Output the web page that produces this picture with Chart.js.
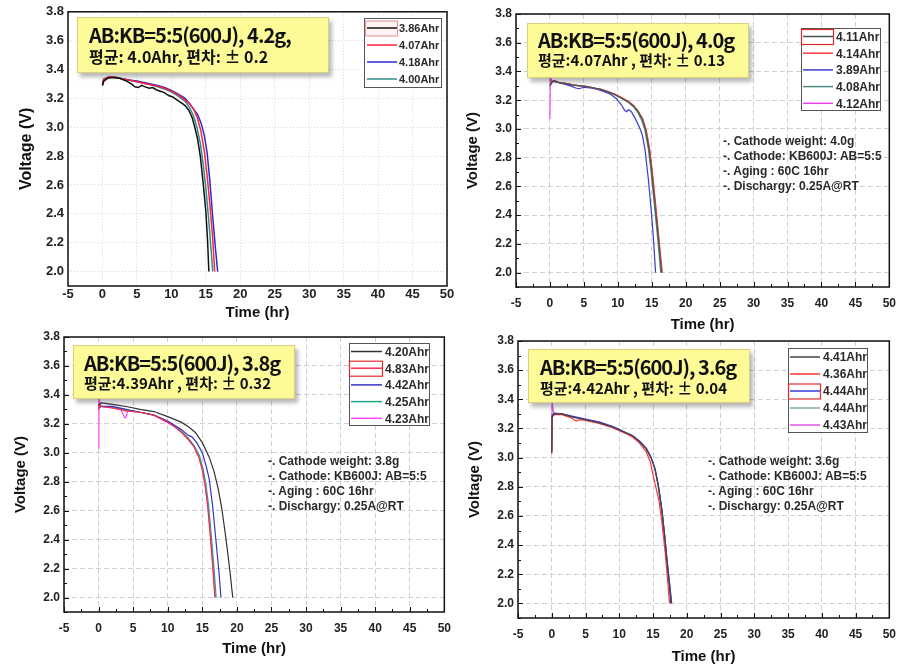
<!DOCTYPE html>
<html>
<head>
<meta charset="utf-8">
<script src="https://cdn.jsdelivr.net/npm/chart.js@4/dist/chart.umd.min.js"></script>
<style>
  html, body { margin: 0; padding: 0; background: #fff; }
  body { width: 905px; height: 667px; position: relative; overflow: hidden; }
  canvas { position: absolute; }
  .ybox { position: absolute; background: #fdfb98; border: 1px solid #d9d27a;
          box-shadow: 3px 4px 4px rgba(0,0,0,0.28); z-index: 5;
          font-family: "Noto Sans CJK KR", "Noto Sans", sans-serif; font-weight: bold; color: #111; }
  .ybox div { position: absolute; white-space: nowrap; line-height: 1; }
  .l1 { font-size: 20px; letter-spacing: -1px; }
  .l2 { font-size: 15px; }
  .note { position: absolute; z-index: 4; font: bold 12px "Liberation Sans", Arial, sans-serif;
          color: #2a2a2a; line-height: 15px; white-space: nowrap; }
</style>
</head>
<body>
<canvas id="c1" width="460" height="320" style="left:0;top:0"></canvas>
<canvas id="c2" width="453" height="335" style="left:452px;top:0"></canvas>
<canvas id="c3" width="460" height="347" style="left:0;top:320px"></canvas>
<canvas id="c4" width="453" height="347" style="left:452px;top:320px"></canvas>

<div class="ybox" style="left:77px;top:17px;width:250px;height:54px">
  <div class="l1" style="left:11px;top:7px">AB:KB=5:5(600J), 4.2g,</div>
  <div class="l2" style="left:11px;top:30px;font-size:16px">평균: 4.0Ahr, 편차: ± 0.2</div>
</div>
<div class="ybox" style="left:527px;top:23px;width:220px;height:53px">
  <div class="l1" style="left:10px;top:6px">AB:KB=5:5(600J), 4.0g</div>
  <div class="l2" style="left:10px;top:28px">평균:4.07Ahr , 편차: ± 0.13</div>
</div>
<div class="ybox" style="left:73px;top:345px;width:220px;height:52px">
  <div class="l1" style="left:10px;top:7px">AB:KB=5:5(600J), 3.8g</div>
  <div class="l2" style="left:10px;top:29px">평균:4.39Ahr , 편차: ± 0.32</div>
</div>
<div class="ybox" style="left:528px;top:349px;width:220px;height:52px">
  <div class="l1" style="left:11px;top:7px">AB:KB=5:5(600J), 3.6g</div>
  <div class="l2" style="left:11px;top:30px">평균:4.42Ahr , 편차: ± 0.04</div>
</div>

<div class="note" style="left:723px;top:134px">-. Cathode weight: 4.0g<br>-. Cathode: KB600J: AB=5:5<br>-. Aging : 60C 16hr<br>-. Dischargy: 0.25A@RT</div>
<div class="note" style="left:268px;top:454px">-. Cathode weight: 3.8g<br>-. Cathode: KB600J: AB=5:5<br>-. Aging : 60C 16hr<br>-. Dischargy: 0.25A@RT</div>
<div class="note" style="left:708px;top:454px">-. Cathode weight: 3.6g<br>-. Cathode: KB600J: AB=5:5<br>-. Aging : 60C 16hr<br>-. Dischargy: 0.25A@RT</div>

<script>
// ---------- tick values ----------
const xTicks = [-5, 0, 5, 10, 15, 20, 25, 30, 35, 40, 45, 50];
const yTicks = [2.0, 2.2, 2.4, 2.6, 2.8, 3.0, 3.2, 3.4, 3.6, 3.8];

// ---------- panel 1 : 4.2g ----------
const p1Labels = ['3.86Ahr', '4.07Ahr', '4.18Ahr', '4.00Ahr'];
const p1_black = [[0,3.29],[0.2,3.32],[0.8,3.34],[1.5,3.345],[2.5,3.34],[3.5,3.32],[4.2,3.30],[4.7,3.28],[5.2,3.275],[5.7,3.29],[6.2,3.28],[6.8,3.27],[7.3,3.275],[7.8,3.26],[8.4,3.25],[9,3.24],[9.6,3.22],[10.2,3.21],[10.8,3.19],[11.4,3.17],[12,3.15],[12.5,3.12],[13,3.07],[13.4,3.0],[13.8,2.92],[14.2,2.80],[14.6,2.62],[15.0,2.42],[15.25,2.22],[15.44,2.0]];
const p1_red   = [[0,3.30],[0.2,3.33],[1,3.35],[2,3.345],[3,3.335],[4,3.325],[5,3.315],[6,3.305],[7,3.295],[8,3.285],[9,3.27],[10,3.25],[11,3.225],[12,3.19],[12.7,3.16],[13.3,3.12],[13.8,3.06],[14.3,2.97],[14.8,2.83],[15.2,2.66],[15.6,2.46],[16.0,2.23],[16.28,2.0]];
const p1_blue  = [[0,3.29],[0.2,3.33],[1,3.35],[2,3.345],[3,3.335],[4,3.325],[5,3.32],[6,3.31],[7,3.30],[8,3.29],[9,3.275],[10,3.255],[11,3.23],[12,3.2],[12.7,3.16],[13.3,3.12],[13.8,3.09],[14.3,3.03],[14.8,2.94],[15.2,2.82],[15.6,2.62],[16.0,2.38],[16.4,2.16],[16.72,2.0]];
const p1_teal  = [[0,3.31],[0.2,3.335],[1,3.35],[2,3.345],[3,3.335],[4,3.325],[5,3.315],[6,3.305],[7,3.295],[8,3.28],[9,3.265],[10,3.245],[11,3.215],[12,3.18],[12.6,3.14],[13.2,3.08],[13.7,3.0],[14.2,2.89],[14.6,2.75],[15.0,2.58],[15.4,2.37],[15.75,2.16],[16.0,2.0]];

// ---------- panel 2 : 4.0g ----------
const p2Labels = ['4.11Ahr', '4.14Ahr', '3.89Ahr', '4.08Ahr', '4.12Ahr'];
const p2_dark  = [[0,3.30],[0.3,3.33],[0.7,3.335],[1.5,3.32],[2.5,3.315],[3.5,3.305],[4.5,3.30],[5.5,3.295],[6.5,3.285],[7.5,3.275],[8.5,3.26],[9.5,3.24],[10.5,3.215],[11.5,3.19],[12.3,3.16],[13,3.12],[13.6,3.07],[14.1,2.99],[14.6,2.86],[15.0,2.70],[15.4,2.51],[15.8,2.32],[16.1,2.17],[16.44,2.0]];
const p2_red   = [[0,3.30],[0.3,3.33],[0.7,3.335],[1.5,3.32],[2.5,3.315],[3.5,3.305],[4.5,3.30],[5.5,3.295],[6.5,3.285],[7.5,3.275],[8.5,3.26],[9.5,3.245],[10.5,3.22],[11.5,3.195],[12.3,3.165],[13,3.125],[13.7,3.07],[14.2,2.99],[14.7,2.86],[15.1,2.70],[15.5,2.51],[15.9,2.32],[16.2,2.17],[16.56,2.0]];
const p2_blue  = [[0,3.30],[0.4,3.33],[1.5,3.32],[3,3.30],[3.8,3.285],[4.3,3.28],[5,3.29],[6,3.285],[7,3.275],[8,3.26],[9,3.24],[9.8,3.21],[10.5,3.17],[11,3.13],[11.3,3.12],[11.6,3.135],[12,3.12],[12.6,3.07],[13.2,3.01],[13.6,2.96],[14,2.86],[14.5,2.65],[15,2.39],[15.3,2.2],[15.56,2.0]];
const p2_teal  = [[0,3.30],[0.3,3.33],[0.7,3.335],[1.5,3.32],[2.5,3.315],[3.5,3.305],[4.5,3.30],[5.5,3.295],[6.5,3.285],[7.5,3.275],[8.5,3.26],[9.5,3.24],[10.5,3.215],[11.5,3.185],[12.3,3.155],[13,3.11],[13.5,3.06],[14.0,2.99],[14.5,2.86],[14.9,2.70],[15.3,2.51],[15.7,2.32],[16.0,2.17],[16.32,2.0]];
const p2_mag   = [[0,3.07],[0.05,3.36],[0.3,3.33],[0.7,3.335],[1.5,3.32],[2.5,3.315],[3.5,3.305],[4.5,3.30],[5.5,3.295],[6.5,3.285],[7.5,3.275],[8.5,3.26],[9.5,3.24],[10.5,3.215],[11.5,3.19],[12.3,3.16],[13,3.12],[13.6,3.07],[14.15,2.99],[14.65,2.86],[15.05,2.70],[15.45,2.51],[15.85,2.32],[16.15,2.17],[16.48,2.0]];

// ---------- panel 3 : 3.8g ----------
const p3Labels = ['4.20Ahr', '4.83Ahr', '4.42Ahr', '4.25Ahr', '4.23Ahr'];
const p3_black = [[0,3.33],[0.4,3.345],[2,3.335],[4,3.32],[6,3.30],[8,3.285],[10,3.25],[12,3.21],[13,3.18],[14,3.14],[15,3.07],[16,2.97],[16.7,2.87],[17.3,2.75],[17.8,2.62],[18.3,2.45],[18.7,2.3],[19.0,2.18],[19.4,2.0]];
const p3_red   = [[0,3.30],[0.05,3.33],[0.5,3.32],[2,3.31],[4,3.29],[6,3.28],[8,3.26],[10,3.21],[11,3.18],[12,3.14],[13,3.09],[13.8,3.04],[14.5,2.97],[15,2.88],[15.4,2.78],[15.8,2.62],[16.2,2.40],[16.5,2.22],[16.8,2.0]];
const p3_blue  = [[0,3.31],[0.3,3.32],[2,3.32],[4,3.30],[6,3.28],[8,3.26],[10,3.22],[11,3.19],[12,3.16],[13,3.12],[13.5,3.11],[14.2,3.07],[15,3.0],[15.6,2.9],[16,2.82],[16.5,2.63],[17,2.38],[17.4,2.18],[17.7,2.0]];
const p3_teal  = [[0,3.31],[0.3,3.32],[2,3.315],[4,3.295],[6,3.28],[8,3.26],[10,3.215],[11,3.185],[12,3.15],[13,3.10],[13.8,3.05],[14.6,2.98],[15.1,2.89],[15.5,2.79],[15.9,2.64],[16.3,2.43],[16.7,2.2],[17.0,2.0]];
const p3_mag   = [[0,3.03],[0.05,3.38],[0.3,3.32],[2,3.31],[3.2,3.30],[3.5,3.27],[3.8,3.24],[4.0,3.25],[4.2,3.29],[6,3.28],[8,3.26],[10,3.21],[11,3.18],[12,3.145],[13,3.095],[13.8,3.045],[14.5,2.975],[15,2.885],[15.4,2.785],[15.8,2.63],[16.2,2.42],[16.55,2.21],[16.9,2.0]];

// ---------- panel 4 : 3.6g ----------
const p4Labels = ['4.41Ahr', '4.36Ahr', '4.44Ahr', '4.44Ahr', '4.43Ahr'];
const p4_dark  = [[0,3.03],[0.05,3.28],[0.4,3.30],[1.5,3.30],[3,3.28],[5,3.26],[7,3.24],[9,3.21],[10,3.19],[11,3.17],[12,3.15],[13,3.11],[14,3.06],[14.7,3.0],[15.3,2.92],[15.8,2.80],[16.3,2.64],[16.7,2.47],[17.1,2.27],[17.4,2.13],[17.64,2.0]];
const p4_red   = [[0,3.04],[0.05,3.28],[0.4,3.295],[1.5,3.295],[3,3.27],[3.6,3.25],[4.2,3.26],[5,3.255],[7,3.235],[9,3.205],[10,3.185],[11,3.165],[12,3.14],[13,3.10],[14,3.04],[14.6,2.97],[15.1,2.86],[15.5,2.78],[15.9,2.70],[16.3,2.56],[16.8,2.35],[17.2,2.14],[17.44,2.0]];
const p4_blue  = [[0,3.05],[0.05,3.29],[0.4,3.305],[1.5,3.30],[3,3.285],[5,3.265],[7,3.245],[9,3.215],[10,3.195],[11,3.17],[12,3.15],[13,3.115],[14,3.065],[14.7,3.005],[15.3,2.925],[15.8,2.81],[16.3,2.65],[16.7,2.48],[17.1,2.29],[17.5,2.12],[17.76,2.0]];
const p4_teal  = [[0,3.04],[0.05,3.28],[0.4,3.30],[1.5,3.30],[3,3.28],[5,3.26],[7,3.24],[9,3.21],[10,3.19],[11,3.17],[12,3.145],[13,3.11],[14,3.06],[14.7,3.0],[15.3,2.92],[15.8,2.80],[16.3,2.64],[16.7,2.47],[17.1,2.28],[17.5,2.11],[17.76,2.0]];
const p4_mag   = [[0,3.03],[0.05,3.38],[0.3,3.30],[1.5,3.30],[3,3.28],[5,3.26],[7,3.24],[9,3.21],[10,3.19],[11,3.17],[12,3.145],[13,3.11],[14,3.06],[14.7,3.0],[15.3,2.92],[15.8,2.80],[16.3,2.64],[16.7,2.47],[17.1,2.28],[17.45,2.12],[17.72,2.0]];

// ---------- helpers ----------
const pts = a => a.map(([x, y]) => ({ x, y }));
function ds(label, arr, color, w) {
  return { label, data: pts(arr), borderColor: color, backgroundColor: color,
           showLine: true, pointRadius: 0, borderWidth: w || 1.2, tension: 0, fill: false };
}

const framePlugin = {
  id: 'frame',
  afterDraw(chart, args, o) {
    const { ctx, chartArea: a, scales: { x, y } } = chart;
    ctx.save();
    if (o.ticks) {
      ctx.strokeStyle = '#111'; ctx.lineWidth = 1;
      ctx.beginPath();
      for (let v = -5; v <= 50; v += 2.5) {
        const px = Math.round(x.getPixelForValue(v)) + 0.5;
        const len = (v % 5 === 0) ? 5 : 3;
        ctx.moveTo(px, a.bottom); ctx.lineTo(px, a.bottom - len);
      }
      for (let k = 19; k <= 38; k++) {
        const py = Math.round(y.getPixelForValue(k / 10)) + 0.5;
        const len = (k % 2 === 0) ? 5 : 3;
        ctx.moveTo(a.left, py); ctx.lineTo(a.left + len, py);
      }
      ctx.stroke();
    }
    ctx.strokeStyle = '#111'; ctx.lineWidth = 1.5;
    ctx.strokeRect(a.left, a.top, a.right - a.left, a.bottom - a.top);
    const L = o.legend;
    ctx.fillStyle = '#fff';
    ctx.fillRect(L.x, L.y, L.w, L.h);
    ctx.strokeStyle = '#555'; ctx.lineWidth = 1;
    ctx.strokeRect(L.x + 0.5, L.y + 0.5, L.w, L.h);
    ctx.font = 'bold ' + L.font + 'px "Liberation Sans", Arial, sans-serif';
    ctx.textBaseline = 'middle'; ctx.textAlign = 'left';
    chart.data.datasets.forEach((d, i) => {
      const yy = L.row0 + i * L.rowH;
      if (i === L.hl) {
        ctx.fillStyle = L.hlFill; ctx.strokeStyle = L.hlColor; ctx.lineWidth = 1.2;
        ctx.fillRect(L.lx0, yy - 7, L.lx1 - L.lx0, 15);
        ctx.strokeRect(L.lx0 + 0.5, yy - 7, L.lx1 - L.lx0, 15);
      }
      ctx.strokeStyle = d.borderColor; ctx.lineWidth = 1.5;
      ctx.beginPath(); ctx.moveTo(L.lx0 + 2, yy); ctx.lineTo(L.lx1, yy); ctx.stroke();
      ctx.fillStyle = '#2a2a2a';
      ctx.fillText(d.label, L.tx, yy + 1);
    });
    ctx.restore();
  }
};

function makeChart(id, datasets, c) {
  const tickFont = { family: '"Liberation Sans", Arial, sans-serif', weight: 'bold', size: c.tf };
  const titleFont = { family: '"Liberation Sans", Arial, sans-serif', weight: 'bold', size: c.ttf, lineHeight: 1.2 };
  return new Chart(document.getElementById(id), {
    type: 'scatter',
    data: { datasets },
    options: {
      responsive: false, animation: false, events: [],
      layout: { padding: { left: 0, top: c.top, right: c.right, bottom: 0 } },
      plugins: { legend: { display: false }, tooltip: { enabled: false },
                 frame: { ticks: c.ticks, legend: c.legend } },
      scales: {
        x: {
          type: 'linear', min: -5, max: 50,
          afterBuildTicks: s => { s.ticks = xTicks.map(v => ({ value: v })); },
          afterFit: s => { s.height = c.xh; },
          ticks: { font: tickFont, color: '#222', padding: c.xpad, maxRotation: 0, autoSkip: false,
                   callback: v => String(v) },
          grid: { color: c.gridColor, lineWidth: 1, drawTicks: false },
          border: { display: false, dash: c.dash },
          title: { display: true, text: 'Time (hr)', color: '#111', font: Object.assign({}, titleFont, c.xtLH ? { lineHeight: c.xtLH } : {}),
                   padding: { top: 0, bottom: c.xtp } }
        },
        y: {
          type: 'linear', min: 1.9, max: 3.8,
          afterBuildTicks: s => { s.ticks = yTicks.map(v => ({ value: v })); },
          afterFit: s => { s.width = c.yw; },
          ticks: { font: tickFont, color: '#222', padding: 4, autoSkip: false,
                   callback: v => Number(v).toFixed(1) },
          grid: { color: c.gridColor, lineWidth: 1, drawTicks: false },
          border: { display: false, dash: c.dash },
          title: { display: true, text: 'Voltage (V)', color: '#111', font: Object.assign({}, titleFont, { size: c.ytf }),
                   padding: { top: c.ytp, bottom: c.ytp } }
        }
      }
    },
    plugins: [framePlugin]
  });
}

// ---------- build ----------
makeChart('c1', [
  ds(p1Labels[0], p1_black, '#111111', 1.5),
  ds(p1Labels[1], p1_red, '#ff2040', 1.5),
  ds(p1Labels[2], p1_blue, '#2a2ad0', 1.5),
  ds(p1Labels[3], p1_teal, '#2e8b8b', 1.5)
], {
  top: 10, right: 13, yw: 68, xh: 34, xpad: 1, tf: 13, ttf: 15, ytf: 16, xtp: 0, xtLH: 1, ytp: 17,
  gridColor: '#d8d8d8', dash: [1, 2], ticks: false,
  legend: { x: 364, y: 18, w: 77, h: 69, row0: 28, rowH: 17, lx0: 365, lx1: 397, tx: 399, font: 11,
            hl: 0, hlColor: '#e7a0a0', hlFill: 'rgba(255,235,235,0.6)' }
});

makeChart('c2', [
  ds(p2Labels[0], p2_dark, '#4a5a4a'),
  ds(p2Labels[1], p2_red, '#ff3b3b'),
  ds(p2Labels[2], p2_blue, '#3a3ad0'),
  ds(p2Labels[3], p2_teal, '#4f8f86'),
  ds(p2Labels[4], p2_mag, '#ee44ee')
], {
  top: 14, right: 15, yw: 64, xh: 48, xpad: 9, tf: 12, ttf: 15, ytf: 15, xtp: 1, ytp: 12,
  gridColor: '#d0d0d0', dash: [5, 3], ticks: true,
  legend: { x: 349, y: 28, w: 79, h: 82, row0: 36.5, rowH: 16.7, lx0: 349, lx1: 381, tx: 384, font: 12,
            hl: 0, hlColor: '#e02a2a', hlFill: 'rgba(255,255,255,0)' }
});

makeChart('c3', [
  ds(p3Labels[0], p3_black, '#333333'),
  ds(p3Labels[1], p3_red, '#ff2a4a'),
  ds(p3Labels[2], p3_blue, '#3535c8'),
  ds(p3Labels[3], p3_teal, '#22a585'),
  ds(p3Labels[4], p3_mag, '#ff44ff')
], {
  top: 17, right: 13, yw: 64, xh: 55, xpad: 9, tf: 12, ttf: 15, ytf: 15, xtp: 9, ytp: 12,
  gridColor: '#d0d0d0', dash: [5, 3], ticks: true,
  legend: { x: 349, y: 23, w: 80, h: 82, row0: 31.5, rowH: 16.7, lx0: 349, lx1: 382, tx: 385, font: 12,
            hl: 1, hlColor: '#e02a2a', hlFill: 'rgba(255,255,255,0)' }
});

makeChart('c4', [
  ds(p4Labels[0], p4_dark, '#444444'),
  ds(p4Labels[1], p4_red, '#ff3535'),
  ds(p4Labels[2], p4_blue, '#3a3ad8'),
  ds(p4Labels[3], p4_teal, '#7aa8a8'),
  ds(p4Labels[4], p4_mag, '#e055e0')
], {
  top: 21, right: 14, yw: 66, xh: 49, xpad: 9, tf: 12, ttf: 15, ytf: 15, xtp: 1, ytp: 14,
  gridColor: '#d0d0d0', dash: [5, 3], ticks: true,
  legend: { x: 336, y: 28, w: 79, h: 84, row0: 37, rowH: 17, lx0: 336, lx1: 368, tx: 371, font: 12,
            hl: 2, hlColor: '#e02a2a', hlFill: 'rgba(255,255,255,0)' }
});
</script>
</body>
</html>
